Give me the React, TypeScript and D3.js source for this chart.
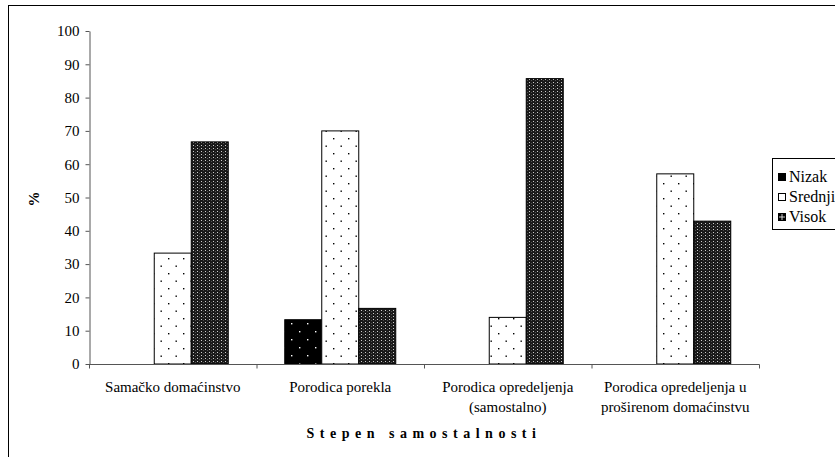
import * as React from 'react'
import * as d3 from 'd3'

const categories = [
  ['Samačko domaćinstvo'],
  ['Porodica porekla'],
  ['Porodica opredeljenja', '(samostalno)'],
  ['Porodica opredeljenja u', 'proširenom domaćinstvu'],
];
const seriesNames = ['Nizak', 'Srednji', 'Visok'];
const nizak = [0, 13.3, 0, 0];
const srednji = [33.3, 70, 14.0, 57.1];
const visok = [66.7, 16.7, 85.7, 42.9];
const yTicks = [0, 10, 20, 30, 40, 50, 60, 70, 80, 90, 100];

const W = 835;
const H = 457;
const left = 89;
const right = 759;
const top = 31;
const bottom = 364;
const font = 'Liberation Serif, Tinos, Times New Roman, DejaVu Serif, serif';

const App: React.FC = () => {
  const ref = React.useRef<SVGSVGElement>(null);

  React.useEffect(() => {
    const svg = d3.select(ref.current);
    svg.selectAll('*').remove();

    const defs = svg.append('defs');
    const pNiz = defs.append('pattern').attr('id', 'pNiz').attr('patternUnits', 'userSpaceOnUse')
      .attr('width', 16).attr('height', 16);
    pNiz.append('rect').attr('width', 16).attr('height', 16).attr('fill', '#000');
    pNiz.append('rect').attr('x', 3).attr('y', 3).attr('width', 1.4).attr('height', 1.4).attr('fill', '#fff');
    pNiz.append('rect').attr('x', 11).attr('y', 11).attr('width', 1.4).attr('height', 1.4).attr('fill', '#fff');

    const pSre = defs.append('pattern').attr('id', 'pSre').attr('patternUnits', 'userSpaceOnUse')
      .attr('width', 15).attr('height', 15);
    pSre.append('rect').attr('width', 15).attr('height', 15).attr('fill', '#fff');
    pSre.append('rect').attr('x', 3).attr('y', 3).attr('width', 1.4).attr('height', 1.4).attr('fill', '#000');
    pSre.append('rect').attr('x', 10.5).attr('y', 10.5).attr('width', 1.4).attr('height', 1.4).attr('fill', '#000');

    const pVis = defs.append('pattern').attr('id', 'pVis').attr('patternUnits', 'userSpaceOnUse')
      .attr('width', 4).attr('height', 3);
    pVis.append('rect').attr('width', 4).attr('height', 3).attr('fill', '#1a1a1a');
    pVis.append('rect').attr('x', 1).attr('y', 1).attr('width', 1).attr('height', 1).attr('fill', '#ccc');
    pVis.append('rect').attr('x', 3).attr('y', 2.5).attr('width', 1).attr('height', 0.5).attr('fill', '#888');

    const fills = ['url(#pNiz)', 'url(#pSre)', 'url(#pVis)'];

    // outer frame
    svg.append('rect').attr('x', 8.5).attr('y', 5.5).attr('width', 900).attr('height', 500)
      .attr('fill', 'none').attr('stroke', '#000').attr('stroke-width', 1);

    const x0 = d3.scaleBand<number>().domain(d3.range(categories.length)).range([left, right]);
    const groupW = 111;
    const x1 = d3.scaleBand<number>().domain([0, 1, 2]).range([0, groupW]);
    const y = d3.scaleLinear().domain([0, 100]).range([bottom, top]);

    const data = [nizak, srednji, visok];

    categories.forEach((_, ci) => {
      const gx = (x0(ci) as number) + (x0.bandwidth() - groupW) / 2;
      data.forEach((s, si) => {
        const v = s[ci];
        if (v <= 0) return;
        svg.append('rect')
          .attr('x', gx + (x1(si) as number))
          .attr('y', y(v))
          .attr('width', x1.bandwidth())
          .attr('height', y(0) - y(v))
          .attr('fill', fills[si])
          .attr('stroke', '#000').attr('stroke-width', 1);
      });
    });

    // y axis
    const ya = svg.append('g').attr('transform', `translate(${left + 0.5},0)`)
      .call(d3.axisLeft(y).tickValues(yTicks).tickSize(4).tickSizeOuter(0));
    ya.attr('font-family', null).attr('font-size', null);
    ya.select('.domain').attr('stroke', '#555');
    ya.selectAll('line').attr('stroke', '#555');
    ya.selectAll('text').attr('font-family', font).attr('font-size', 15).attr('fill', '#000').attr('dx', '-3');

    // x axis
    const xa = svg.append('g').attr('transform', `translate(0,${bottom + 0.5})`);
    xa.append('line').attr('x1', left).attr('x2', right + 0.5).attr('stroke', '#555');
    const bounds = [...d3.range(categories.length).map(i => x0(i) as number), right];
    bounds.forEach(b => {
      xa.append('line').attr('x1', b + 0.5).attr('x2', b + 0.5).attr('y1', 0).attr('y2', 4).attr('stroke', '#555');
    });
    categories.forEach((lines, ci) => {
      const cx = (x0(ci) as number) + x0.bandwidth() / 2;
      lines.forEach((l, li) => {
        svg.append('text').attr('x', cx).attr('y', 392 + li * 20)
          .attr('text-anchor', 'middle').attr('font-family', font).attr('font-size', 15)
          .text(l);
      });
    });

    svg.append('text').attr('x', (left + right) / 2).attr('y', 438)
      .attr('text-anchor', 'middle').attr('font-family', font).attr('font-size', 14)
      .attr('font-weight', 'bold').attr('letter-spacing', 5.5)
      .text('Stepen samostalnosti');

    svg.append('text').attr('transform', `translate(39,199) rotate(-90)`)
      .attr('text-anchor', 'middle').attr('font-family', font).attr('font-size', 15)
      .attr('font-weight', 'bold').text('%');

    // legend
    const lg = svg.append('g');
    lg.append('rect').attr('x', 772.5).attr('y', 158.5).attr('width', 100).attr('height', 71)
      .attr('fill', '#fff').attr('stroke', '#000');
    seriesNames.forEach((n, i) => {
      const yy = 182 + i * 20;
      if (i === 0) {
        lg.append('rect').attr('x', 778).attr('y', yy - 9).attr('width', 8).attr('height', 8).attr('fill', '#000');
      } else if (i === 1) {
        lg.append('rect').attr('x', 778.5).attr('y', yy - 8.5).attr('width', 7).attr('height', 7).attr('fill', '#fff').attr('stroke', '#000');
      } else {
        lg.append('rect').attr('x', 778).attr('y', yy - 9).attr('width', 8).attr('height', 8).attr('fill', '#000');
        lg.append('line').attr('x1', 782).attr('x2', 782).attr('y1', yy - 8).attr('y2', yy - 2).attr('stroke', '#fff').attr('stroke-width', 0.8);
        lg.append('line').attr('x1', 779).attr('x2', 785).attr('y1', yy - 5).attr('y2', yy - 5).attr('stroke', '#fff').attr('stroke-width', 0.8);
      }
      lg.append('text').attr('x', 789).attr('y', yy).attr('font-family', font).attr('font-size', 16).text(n);
    });
  }, []);

  return (
    <svg ref={ref} width={W} height={H}
      style={{ position: 'absolute', left: 0, top: 0, background: '#fff' }} />
  );
};

export default App;
